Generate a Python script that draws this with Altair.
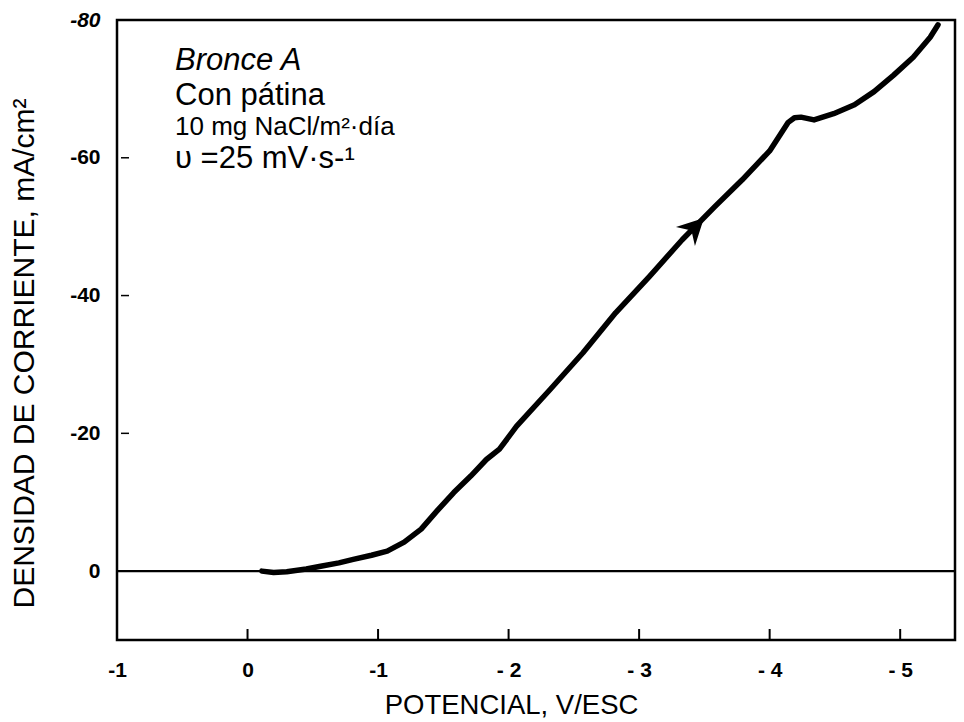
import altair as alt
import pandas as pd

# Curve: potential (V/ESC) vs current density (mA/cm2)
potential = [-0.11, -0.20, -0.30, -0.45, -0.56, -0.70, -0.81, -0.95, -1.07, -1.20,
             -1.33, -1.45, -1.58, -1.71, -1.83, -1.93, -2.06, -2.32, -2.57, -2.82,
             -3.08, -3.33, -3.58, -3.79, -4.00, -4.14, -4.19, -4.24, -4.34, -4.49,
             -4.65, -4.80, -4.95, -5.10, -5.23, -5.29]
current = [0.0, 0.2, 0.1, -0.3, -0.7, -1.2, -1.7, -2.3, -2.9, -4.2,
           -6.1, -8.7, -11.4, -13.8, -16.2, -17.7, -21.0, -26.4, -31.7, -37.5,
           -42.8, -48.1, -52.9, -56.8, -61.0, -65.1, -65.8, -65.9, -65.5, -66.4,
           -67.7, -69.6, -72.0, -74.6, -77.5, -79.3]

# Arrow marker position on the curve
arrow_x = [-3.42]
arrow_y = [-49.8]

x_tick_values = [1, 0, -1, -2, -3, -4, -5]
x_tick_labels = ["-1", "0", "-1", "- 2", "- 3", "- 4", "- 5"]
y_tick_values = [-80, -60, -40, -20, 0]
y_tick_labels = ["-80", "-60", "-40", "-20", "0"]

annotations = ["Bronce A", "Con pátina", "10 mg NaCl/m²·día", " υ =25 mV·s-¹"]

FONT = "Liberation Sans"
W, H = 838, 620

curve_df = pd.DataFrame({"E": potential, "i": current, "order": range(len(potential))})
arrow_df = pd.DataFrame({"E": arrow_x, "i": arrow_y})
xt_df = pd.DataFrame({"E": x_tick_values[1:]})
yt_df = pd.DataFrame({"i": y_tick_values[1:-1]})
zero_df = pd.DataFrame({"i": [0]})


def label_expr(values, labels):
    expr = "''"
    for v, l in reversed(list(zip(values, labels))):
        expr = f"datum.value == {v} ? '{l}' : ({expr})"
    return expr


xscale = alt.Scale(domain=[-5.42, 1], reverse=True, nice=False, zero=False)
yscale = alt.Scale(domain=[-80, 10], reverse=True, nice=False, zero=False)

xaxis = alt.Axis(
    values=x_tick_values, labelExpr=label_expr(x_tick_values, x_tick_labels),
    ticks=False, domain=False, grid=False, labelFont=FONT, labelFontSize=21,
    labelFontWeight="bold", labelColor="black", labelPadding=19,
    labelFlush=False, labelOverlap=False,
    title="POTENCIAL, V/ESC", titleFont=FONT, titleFontSize=27.5,
    titleFontWeight="normal", titleColor="black", titleX=394, titleY=73,
    titleAlign="center", titleBaseline="alphabetic",
)
yaxis = alt.Axis(
    values=y_tick_values, labelExpr=label_expr(y_tick_values, y_tick_labels),
    ticks=False, domain=False, grid=False, labelFont=FONT, labelFontSize=21,
    labelFontWeight="bold", labelColor="black", labelPadding=17,
    labelFontStyle={"expr": "datum.value == -80 ? 'italic' : 'normal'"},
    labelFlush=False, labelOverlap=False,
    title="DENSIDAD DE CORRIENTE, mA/cm²", titleFont=FONT, titleFontSize=30,
    titleFontWeight="normal", titleColor="black", titleX=-84, titleY=333,
    titleAngle=-90, titleAlign="center", titleBaseline="alphabetic",
)

base = alt.Chart(curve_df)

curve = base.mark_line(color="black", strokeWidth=5.5, strokeCap="round",
                       strokeJoin="round").encode(
    x=alt.X("E:Q", scale=xscale, axis=xaxis),
    y=alt.Y("i:Q", scale=yscale, axis=yaxis),
    order="order:Q",
)

zero = alt.Chart(zero_df).mark_rule(color="black", strokeWidth=2.2).encode(
    y=alt.Y("i:Q", scale=yscale), x=alt.value(0), x2=alt.value(W)
)

xticks = alt.Chart(xt_df).mark_rule(color="black", strokeWidth=2).encode(
    x=alt.X("E:Q", scale=xscale), y=alt.value(H), y2=alt.value(H - 11)
)
yticks = alt.Chart(yt_df).mark_rule(color="black", strokeWidth=1.5).encode(
    y=alt.Y("i:Q", scale=yscale), x=alt.value(4), x2=alt.value(12)
)

arrow = alt.Chart(arrow_df).mark_point(
    shape="M0,-1L0.95,0.85L0,0.25L-0.95,0.85Z", filled=True, color="black",
    opacity=1, size=800, angle=45, strokeWidth=0
).encode(x=alt.X("E:Q", scale=xscale), y=alt.Y("i:Q", scale=yscale))

ann_sizes = [31, 31, 26, 31]
ann_styles = ["italic", "normal", "normal", "normal"]
ann_y = [50, 85, 115, 148]
ann_layers = []
for txt, fs, st, yy in zip(annotations, ann_sizes, ann_styles, ann_y):
    ann_layers.append(
        alt.Chart(pd.DataFrame({"t": [txt]})).mark_text(
            align="left", baseline="alphabetic", font=FONT, fontSize=fs,
            fontStyle=st, color="black"
        ).encode(text="t:N", x=alt.value(58), y=alt.value(yy))
    )

chart = alt.layer(zero, curve, xticks, yticks, arrow, *ann_layers).properties(
    width=W, height=H,
    autosize=alt.AutoSizeParams(type="none"),
    padding={"left": 117, "top": 20, "right": 9, "bottom": 82},
    background="white",
).configure_view(stroke="black", strokeWidth=2.5)

chart.save("out.html", embed_options={"renderer": "svg", "actions": False})
